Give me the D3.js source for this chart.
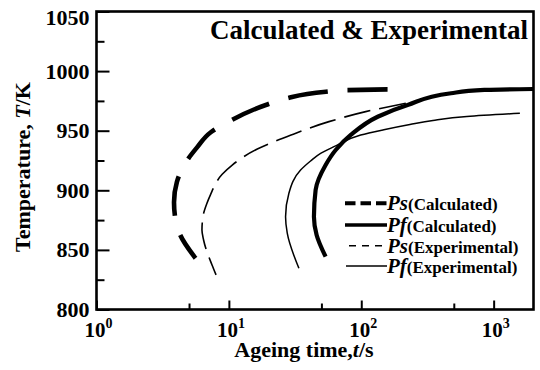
<!DOCTYPE html>
<html><head><meta charset="utf-8">
<script src="https://cdn.jsdelivr.net/npm/d3@7"></script>
<style>body{margin:0;background:#fff}svg text{font-family:"Liberation Serif","Times New Roman",serif;font-weight:bold;fill:#000}</style>
</head><body><svg id="c" width="540" height="370"></svg>
<script>
// ---- data ----
const psCalcTime = [158, 76, 54, 27, 19, 9.9, 7.3, 5.75, 4.7, 4.05, 3.85, 3.93, 4.29, 5.6];
const psCalcTemp = [984.7, 984, 982.7, 977, 971.6, 957.5, 948.7, 936, 923, 907, 890, 877, 862.5, 843];
const pfCalcTime = [53.8, 46, 43.9, 45.2, 53.8, 64.1, 83.3, 133, 224, 477, 851, 1990];
const pfCalcTemp = [844.3, 862.5, 877.9, 900.3, 921.2, 933.8, 946.4, 961.7, 971.6, 981.4, 984.2, 985];
const psExpTime = [217, 108, 57, 29.5, 16.4, 10.6, 8.9, 7.24, 6.84, 6.4, 6.26, 6.44, 7.46, 8.0];
const psExpTemp = [973, 966, 957.6, 946.4, 934.6, 921.2, 913.4, 896, 889.3, 879, 866.7, 858.3, 837.3, 829];
const pfExpTime = [33.8, 27.6, 26.8, 28.4, 34.8, 41.4, 49.3, 62.2, 99, 148, 233, 348, 628, 1578];
const pfExpTemp = [834.6, 864, 877.9, 897.5, 917, 924.6, 931, 936.6, 946.4, 950.8, 955.2, 958.6, 961.9, 964.6];

const xMajorTicks = [1, 10, 100, 1000];
const xMinorTicks = [5, 50, 500];
const xTickExp = ["0", "1", "2", "3"];
const yMajorTicks = [800, 850, 900, 950, 1000, 1050];
const yMinorTicks = [825, 875, 925, 975, 1025];

const legendSymbols = ["Ps", "Pf", "Ps", "Pf"];
const legendNotes = ["(Calculated)", "(Calculated)", "(Experimental)", "(Experimental)"];
const titleText = "Calculated & Experimental";
const xTitle = "Ageing time,";
const yTitle = "Temperature, ";

// ---- layout ----
const L = 96.5, R = 533.5, T = 11.5, B = 309.5;
const svg = d3.select("#c");
const x = d3.scaleLog().domain([1, 2000]).range([L, R]);
const y = d3.scaleLinear().domain([800, 1050]).range([B, T]);

const styles = [
  {w: 4.6, dash: "40,20", ldash: "10.5,5"},
  {w: 4.2, dash: null, ldash: null},
  {w: 1.6, dash: "27,9", ldash: "7,6"},
  {w: 1.5, dash: null, ldash: null}
];
const series = [
  d3.zip(psCalcTime, psCalcTemp),
  d3.zip(pfCalcTime, pfCalcTemp),
  d3.zip(psExpTime, psExpTemp),
  d3.zip(pfExpTime, pfExpTemp)
];
const line = d3.line().x(d => x(d[0])).y(d => y(d[1])).curve(d3.curveMonotoneY);
series.forEach((s, i) => {
  svg.append("path").attr("d", line(s)).attr("fill", "none").attr("stroke", "#000")
    .attr("stroke-width", styles[i].w).attr("stroke-dasharray", styles[i].dash)
    .attr("stroke-linecap", "butt");
});

// axes ticks (inward)
const gx = svg.append("g").attr("transform", `translate(0,${B})`)
  .call(d3.axisBottom(x).tickValues(xMajorTicks).tickSize(-9).tickFormat(""));
const gx2 = svg.append("g").attr("transform", `translate(0,${B})`)
  .call(d3.axisBottom(x).tickValues(xMinorTicks).tickSize(-6).tickFormat(""));
const gy = svg.append("g").attr("transform", `translate(${L},0)`)
  .call(d3.axisLeft(y).tickValues(yMajorTicks).tickSize(-13).tickFormat(""));
const gy2 = svg.append("g").attr("transform", `translate(${L},0)`)
  .call(d3.axisLeft(y).tickValues(yMinorTicks).tickSize(-8).tickFormat(""));
[gx, gx2, gy, gy2].forEach(g => {
  g.select(".domain").remove();
  g.selectAll(".tick line").attr("stroke", "#000").attr("stroke-width", 2);
});

// frame
svg.append("rect").attr("x", L).attr("y", T).attr("width", R - L).attr("height", B - T)
  .attr("fill", "none").attr("stroke", "#000").attr("stroke-width", 2.6);

// y tick labels
yMajorTicks.forEach(v => {
  svg.append("text").attr("x", L - 7).attr("y", Math.max(y(v), 17.5)).attr("dy", "0.34em")
    .attr("text-anchor", "end").style("font-size", "22px").text(v);
});
// x tick labels
xMajorTicks.forEach((v, i) => {
  const t = svg.append("text").attr("x", x(v) + 2).attr("y", 337)
    .attr("text-anchor", "middle").style("font-size", "21px");
  t.append("tspan").text("10");
  t.append("tspan").attr("dy", -9).style("font-size", "14px").text(xTickExp[i]);
});

// axis titles
const xt = svg.append("text").attr("x", 304).attr("y", 357).attr("text-anchor", "middle").style("font-size", "22px");
xt.append("tspan").text(xTitle);
xt.append("tspan").style("font-style", "italic").text("t");
xt.append("tspan").text("/s");
const yt = svg.append("text").attr("transform", "translate(30,167) rotate(-90)")
  .attr("text-anchor", "middle").style("font-size", "22px");
yt.append("tspan").text(yTitle);
yt.append("tspan").style("font-style", "italic").text("T");
yt.append("tspan").text("/K");

// title
svg.append("text").attr("x", 528).attr("y", 39).attr("text-anchor", "end").style("font-size", "27px").text(titleText);

// legend
const legY = [203.3, 225, 245.7, 266];
const legX0 = [345, 345, 349, 346];
legendSymbols.forEach((s, i) => {
  svg.append("line").attr("x1", legX0[i]).attr("x2", 387).attr("y1", legY[i]).attr("y2", legY[i])
    .attr("stroke", "#000").attr("stroke-width", styles[i].w * 0.85).attr("stroke-dasharray", styles[i].ldash);
  const t = svg.append("text").attr("x", 387).attr("y", legY[i] + 7);
  t.append("tspan").style("font-style", "italic").style("font-size", "21px").text(s);
  t.append("tspan").style("font-size", "17px").text(legendNotes[i]);
});
</script></body></html>
